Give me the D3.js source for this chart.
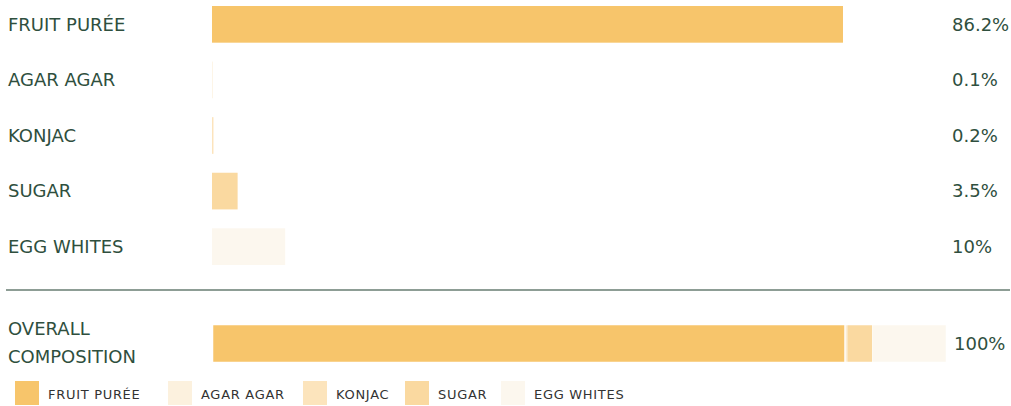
<!DOCTYPE html>
<html>
<head>
<meta charset="utf-8">
<script src="https://cdn.jsdelivr.net/npm/d3@7"></script>
<style>
  body { margin: 0; background: #fff; }
  svg { display: block; font-family: "DejaVu Sans", sans-serif; }
</style>
</head>
<body>
<div id="chart"></div>
<script>
// ingredient data
const categories = ["FRUIT PURÉE", "AGAR AGAR", "KONJAC", "SUGAR", "EGG WHITES"];
const values = [86.2, 0.1, 0.2, 3.5, 10];
const valueLabels = ["86.2%", "0.1%", "0.2%", "3.5%", "10%"];
const colors = ["#f7c56b", "#fcf1de", "#fce4bc", "#fad9a0", "#fcf7ee"];
const overallLabel = ["OVERALL", "COMPOSITION"];
const overallValue = "100%";

let width = 1011, height = 406;
let labelColor = "#2f4f3e";

const svg = d3.select("#chart")
    .append("svg")
    .attr("width", width)
    .attr("height", height);

const x = d3.scaleLinear().domain([0, 100]).range([212, 944]);
const y = d3.scaleBand().domain(categories).range([6, 265]).paddingInner(0.34);

// rows for each ingredient
const rows = svg.selectAll(".row")
    .data(categories)
    .enter()
        .append("g")
        .attr("class", "row");

rows.append("rect")
    .attr("x", x(0))
    .attr("y", d => y(d))
    .attr("width", (d, i) => x(values[i]) - x(0))
    .attr("height", y.bandwidth())
    .attr("fill", (d, i) => colors[i]);

rows.append("text")
    .attr("x", 8)
    .attr("y", d => y(d) + y.bandwidth() / 2)
    .attr("dy", ".35em")
    .attr("font-size", 18)
    .attr("fill", labelColor)
    .text(d => d);

rows.append("text")
    .attr("x", 952)
    .attr("y", d => y(d) + y.bandwidth() / 2)
    .attr("dy", ".35em")
    .attr("font-size", 18)
    .attr("fill", labelColor)
    .text((d, i) => valueLabels[i]);

// divider
svg.append("line")
    .attr("x1", 6).attr("x2", 1010)
    .attr("y1", 290).attr("y2", 290)
    .attr("stroke", "#8d9d95")
    .attr("stroke-width", 2);

// overall stacked bar
const stacked = d3.stack().keys(categories)([Object.fromEntries(categories.map((c, i) => [c, values[i]]))]);
const xo = d3.scaleLinear().domain([0, 100]).range([213, 946]);
let overallY = 325, overallH = 37;

svg.selectAll(".seg")
    .data(stacked)
    .enter()
        .append("rect")
        .attr("class", "seg")
        .attr("x", d => xo(d[0][0]))
        .attr("y", overallY)
        .attr("width", d => xo(d[0][1]) - xo(d[0][0]))
        .attr("height", overallH)
        .attr("fill", (d, i) => colors[i])
        .attr("stroke", "#fff")
        .attr("stroke-width", 0.5);

svg.append("text")
    .attr("x", 8)
    .attr("font-size", 18)
    .attr("fill", labelColor)
    .selectAll("tspan")
    .data(overallLabel)
    .enter()
        .append("tspan")
        .attr("x", 8)
        .attr("y", (d, i) => 335 + i * 28)
        .text(d => d);

svg.append("text")
    .attr("x", 954)
    .attr("y", overallY + overallH / 2)
    .attr("dy", ".35em")
    .attr("font-size", 18)
    .attr("fill", labelColor)
    .text(overallValue);

// legend
const legendX = [15, 168, 303, 405, 501];
const legend = svg.selectAll(".legend")
    .data(categories)
    .enter()
        .append("g")
        .attr("class", "legend")
        .attr("transform", (d, i) => "translate(" + legendX[i] + ",381)");

legend.append("rect")
    .attr("width", 24)
    .attr("height", 24)
    .attr("fill", (d, i) => colors[i]);

legend.append("text")
    .attr("x", 33)
    .attr("y", 13)
    .attr("dy", ".35em")
    .attr("font-size", 13)
    .attr("letter-spacing", 0.7)
    .attr("fill", "#333")
    .text(d => d);
</script>
</body>
</html>
